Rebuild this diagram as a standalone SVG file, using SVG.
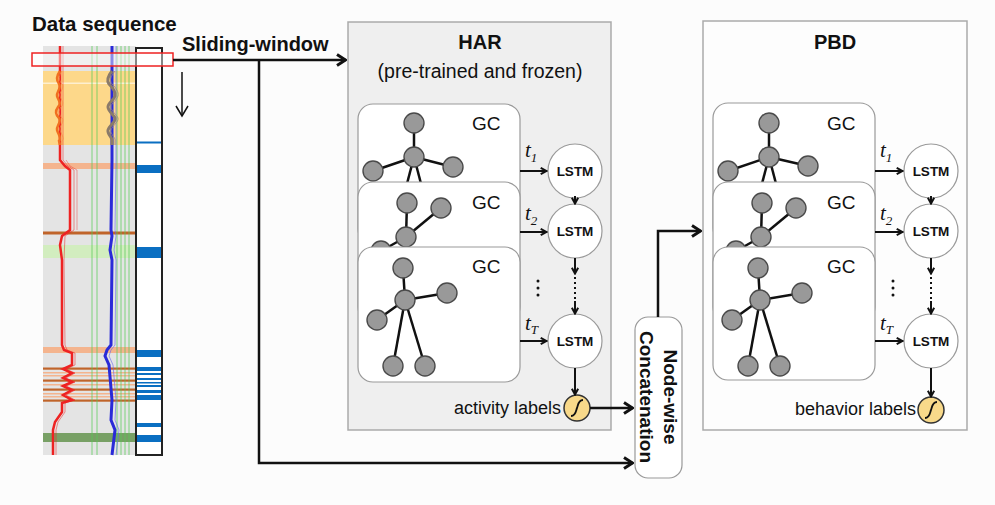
<svg xmlns="http://www.w3.org/2000/svg" width="995" height="505" viewBox="0 0 995 505">
<style>
.txt{font-family:"Liberation Sans",Arial,sans-serif;fill:#111}
.b{font-weight:bold}
.ln{stroke:#111;stroke-width:2.5;fill:none}
.sl{stroke:#111;stroke-width:2;fill:none}
.card{fill:#fff;stroke:#9a9a9a;stroke-width:1.2}
.gn{fill:#999;stroke:#4a4a4a;stroke-width:1.4}
.ge{stroke:#111;stroke-width:2.5}
.lstm{fill:#fff;stroke:#9a9a9a;stroke-width:1.2}
.sig{fill:#f8d98a;stroke:#333;stroke-width:1.5}
.t{font-family:"Liberation Serif","Times New Roman",serif;font-style:italic;fill:#111}
.gv{stroke:#55cc55;stroke-width:0.9;opacity:.8}
.blu{fill:#0a6fc2}
</style>
<defs>
<marker id="ah" viewBox="0 0 12 14" refX="11" refY="7" markerWidth="12" markerHeight="14" markerUnits="userSpaceOnUse" orient="auto">
<path d="M2,1.5 L10.5,7 L2,12.5" fill="none" stroke="#111" stroke-width="3"/>
</marker>
<marker id="as" viewBox="0 0 10 10" refX="9" refY="5" markerWidth="9" markerHeight="9" markerUnits="userSpaceOnUse" orient="auto">
<path d="M2,1.5 L8.5,5 L2,8.5" fill="none" stroke="#111" stroke-width="2.2"/>
</marker>
<g id="sigIcon">
<path d="M-6,8 C-1,8 -1,2 0,0 C1,-2 1,-8 6,-8" fill="none" stroke="#111" stroke-width="1.8"/>
</g>
</defs>
<rect width="995" height="505" fill="#fcfcfc"/>

<!-- Data sequence panel -->
<g id="data-sequence">
<text class="txt b" x="32" y="31" font-size="20.5">Data sequence</text>
<rect x="43" y="46" width="93" height="409" fill="#e4e4e4"/>
<rect x="43" y="71" width="93" height="74" fill="#ffd680" opacity="0.9"/>
<rect x="43" y="82.5" width="93" height="1.5" fill="#fff" opacity="0.6"/>
<rect x="43" y="163" width="93" height="6" fill="#f4b48e"/>
<rect x="43" y="231.5" width="93" height="3" fill="#c0642a"/>
<rect x="43" y="245" width="93" height="13" fill="#cfeeb8" opacity="0.85"/>
<rect x="43" y="347" width="93" height="6" fill="#f4b48e"/>
<rect x="43" y="367.5" width="93" height="2.2" fill="#c0642a"/>
<rect x="43" y="372" width="93" height="1.5" fill="#f4b48e"/>
<rect x="43" y="375" width="93" height="1.5" fill="#f4b48e"/>
<rect x="43" y="379.5" width="93" height="2.2" fill="#c0642a"/>
<rect x="43" y="384" width="93" height="1.5" fill="#f4b48e"/>
<rect x="43" y="388.5" width="93" height="2.2" fill="#c0642a"/>
<rect x="43" y="393" width="93" height="1.5" fill="#f4b48e"/>
<rect x="43" y="396" width="93" height="1.5" fill="#f4b48e"/>
<rect x="43" y="399.5" width="93" height="2.2" fill="#c0642a"/>
<rect x="43" y="433" width="93" height="9" fill="#5d8f45" opacity="0.8"/>
<line class="gv" x1="92" y1="46" x2="92" y2="455"/>
<line class="gv" x1="97" y1="46" x2="97" y2="455"/>
<line class="gv" x1="117" y1="46" x2="117" y2="455"/>
<line class="gv" x1="121" y1="46" x2="121" y2="455"/>
<line class="gv" x1="125" y1="46" x2="125" y2="455"/>
<line class="gv" x1="129" y1="46" x2="129" y2="455"/>
<polyline fill="none" stroke="#ee2222" stroke-width="1" opacity="0.5" points="63,46 63,160 68,166 74,170 74,230 65,236 64,260 65,345 67,350 75,353 75,365 66,369 75,373 66,378 75,382 66,386 75,390 66,395 75,400 65,403 65,412 58,422 56,430 56,455"/>
<polyline fill="none" stroke="#ee2222" stroke-width="1" opacity="0.4" points="66,160 70,166 77,170 77,230"/>
<polyline fill="none" stroke="#ee2222" stroke-width="2.5" points="60,46 60,71 60,145 60,160 65,166 70,170 70,230 62,236 60,245 62,260 62,345 64,350 72,353 72,365 63,369 72,373 63,378 72,382 63,386 72,390 63,395 72,400 62,403 62,412 55,422 53,430 53,455"/>
<path fill="none" stroke="#f07020" stroke-width="2.5" d="M60,71 C57,75 56,80 59,84 C62,88 56,92 57,96 C58,100 62,103 58,107 C55,111 56,115 59,118 C62,122 56,126 57,130 C58,134 62,138 59,141 L60,145"/>
<path fill="none" stroke="#f59040" stroke-width="1" opacity="0.7" d="M62,71 C59,75 58,80 62,84 C65,88 59,92 60,96 C61,100 65,103 61,107 C58,111 59,115 62,118 C65,122 59,126 60,130 C61,134 65,138 62,141 L62,145"/>
<polyline fill="none" stroke="#6666ee" stroke-width="1" opacity="0.6" points="116,46 116,160 115,230 116,236 114,250 116,260 115,345 111,350 109,356 113,365 116,400 115,420 119,430 116,455"/>
<polyline fill="none" stroke="#2a2ad8" stroke-width="3" points="112,46 112,71 112,145 112,160 111,230 112,236 110,250 112,260 111,345 107,350 105,356 109,365 112,400 111,420 115,430 112,455"/>
<path fill="none" stroke="#8a7a6a" stroke-width="3" d="M112,71 C108,76 106,80 109,84 C113,88 116,92 115,96 C114,100 108,103 108,107 C108,111 114,115 115,118 C116,122 109,126 108,130 C107,134 113,138 112,141 L112,145"/>
<path fill="none" stroke="#9a8a7a" stroke-width="1" opacity="0.8" d="M115,71 C111,76 109,80 112,84 C116,88 119,92 118,96 C117,100 111,103 111,107 C111,111 117,115 118,118 C119,122 112,126 111,130 C110,134 116,138 115,141 L115,145"/>
<rect x="136" y="48" width="26" height="407" fill="#fff" stroke="#222" stroke-width="2"/>
<rect class="blu" x="137" y="141.5" width="24" height="2"/>
<rect class="blu" x="137" y="165" width="24" height="8"/>
<rect class="blu" x="137" y="247" width="24" height="11"/>
<rect class="blu" x="137" y="350" width="24" height="7"/>
<rect class="blu" x="137" y="367" width="24" height="4"/>
<rect class="blu" x="137" y="373" width="24" height="2"/>
<rect class="blu" x="137" y="378" width="24" height="2"/>
<rect class="blu" x="137" y="382" width="24" height="1.5"/>
<rect class="blu" x="137" y="385" width="24" height="2"/>
<rect class="blu" x="137" y="390" width="24" height="3"/>
<rect class="blu" x="137" y="395" width="24" height="5"/>
<rect class="blu" x="137" y="423" width="24" height="4"/>
<rect class="blu" x="137" y="435" width="24" height="7"/>
<rect x="32" y="53" width="141" height="13" fill="#fff" fill-opacity="0.45" stroke="#e22" stroke-width="1.5"/>
<line x1="182" y1="72" x2="182" y2="116" stroke="#111" stroke-width="1.5"/>
<path d="M176,106 L182,116 L188,106" fill="none" stroke="#111" stroke-width="1.5"/>
</g>

<!-- HAR box -->
<g id="har">
<rect x="348" y="22" width="263" height="408" fill="#efefef" stroke="#aaa" stroke-width="1.5"/>
<text class="txt b" x="480" y="49" font-size="20" text-anchor="middle">HAR</text>
<text class="txt" x="480" y="78" font-size="19.5" text-anchor="middle">(pre-trained and frozen)</text>
</g>

<g id="har-gc1">
<rect class="card" x="358" y="104" width="162" height="140" rx="15"/>
<line class="ge" x1="414" y1="123" x2="414" y2="157"/>
<line class="ge" x1="414" y1="157" x2="373" y2="171"/>
<line class="ge" x1="414" y1="157" x2="453" y2="167"/>
<line class="ge" x1="414" y1="157" x2="404" y2="195"/>
<line class="ge" x1="414" y1="157" x2="424" y2="195"/>
<circle class="gn" cx="414" cy="123" r="10"/>
<circle class="gn" cx="414" cy="157" r="10"/>
<circle class="gn" cx="373" cy="171" r="10"/>
<circle class="gn" cx="453" cy="167" r="10"/>
<text class="txt" x="472" y="130" font-size="19">GC</text>
</g>
<g id="har-gc2">
<rect class="card" x="358" y="182" width="162" height="140" rx="15"/>
<line class="ge" x1="407" y1="203" x2="406" y2="237"/>
<line class="ge" x1="441" y1="208" x2="406" y2="237"/>
<line class="ge" x1="406" y1="237" x2="381" y2="251"/>
<circle class="gn" cx="407" cy="203" r="10"/>
<circle class="gn" cx="441" cy="208" r="10"/>
<circle class="gn" cx="381" cy="251" r="10"/>
<circle class="gn" cx="406" cy="237" r="10"/>
<text class="txt" x="472" y="209" font-size="19">GC</text>
</g>
<g id="har-gc3">
<rect class="card" x="358" y="247" width="162" height="135" rx="15"/>
<line class="ge" x1="403" y1="268" x2="405" y2="300"/>
<line class="ge" x1="405" y1="300" x2="447" y2="293"/>
<line class="ge" x1="405" y1="300" x2="377" y2="320"/>
<line class="ge" x1="405" y1="300" x2="393" y2="366"/>
<line class="ge" x1="405" y1="300" x2="425" y2="366"/>
<circle class="gn" cx="403" cy="268" r="10"/>
<circle class="gn" cx="447" cy="293" r="10"/>
<circle class="gn" cx="377" cy="320" r="10"/>
<circle class="gn" cx="393" cy="366" r="10"/>
<circle class="gn" cx="425" cy="366" r="10"/>
<circle class="gn" cx="405" cy="300" r="10"/>
<text class="txt" x="472" y="273" font-size="19">GC</text>
</g>
<g id="har-lstm1"><circle class="lstm" cx="575" cy="171" r="27"/><text class="txt b" x="575" y="176" font-size="13.5" text-anchor="middle">LSTM</text></g>
<g id="har-lstm2"><circle class="lstm" cx="575" cy="231" r="27"/><text class="txt b" x="575" y="236" font-size="13.5" text-anchor="middle">LSTM</text></g>
<g id="har-lstm3"><circle class="lstm" cx="575" cy="341" r="27"/><text class="txt b" x="575" y="346" font-size="13.5" text-anchor="middle">LSTM</text></g>
<g id="har-sigmoid"><circle class="sig" cx="577" cy="408" r="13"/><use href="#sigIcon" x="577" y="408"/></g>
<g id="har-labels">
<text class="t" x="525" y="157" font-size="21">t<tspan font-size="13" dy="5">1</tspan></text>
<text class="t" x="525" y="220" font-size="21">t<tspan font-size="13" dy="5">2</tspan></text>
<text class="t" x="525" y="330" font-size="21">t<tspan font-size="13" dy="4">T</tspan></text>
<circle cx="538" cy="281" r="1.5" fill="#111"/><circle cx="538" cy="288" r="1.5" fill="#111"/><circle cx="538" cy="295" r="1.5" fill="#111"/>
<text class="txt" x="561" y="414" font-size="18" text-anchor="end">activity labels</text>
</g>

<!-- PBD box -->
<g id="pbd">
<rect x="703" y="21" width="264" height="409" fill="#fdfdfd" stroke="#aaa" stroke-width="1.5"/>
<text class="txt b" x="835" y="49" font-size="20" text-anchor="middle">PBD</text>
</g>
<g id="pbd-gc1">
<rect class="card" x="713" y="103" width="162" height="140" rx="15"/>
<line class="ge" x1="769" y1="123" x2="769" y2="157"/>
<line class="ge" x1="769" y1="157" x2="728" y2="171"/>
<line class="ge" x1="769" y1="157" x2="808" y2="166"/>
<line class="ge" x1="769" y1="157" x2="759" y2="195"/>
<line class="ge" x1="769" y1="157" x2="779" y2="195"/>
<circle class="gn" cx="769" cy="123" r="10"/>
<circle class="gn" cx="769" cy="157" r="10"/>
<circle class="gn" cx="728" cy="171" r="10"/>
<circle class="gn" cx="808" cy="166" r="10"/>
<text class="txt" x="827" y="130" font-size="19">GC</text>
</g>
<g id="pbd-gc2">
<rect class="card" x="713" y="182" width="162" height="140" rx="15"/>
<line class="ge" x1="762" y1="203" x2="761" y2="237"/>
<line class="ge" x1="796" y1="208" x2="761" y2="237"/>
<line class="ge" x1="761" y1="237" x2="736" y2="251"/>
<circle class="gn" cx="762" cy="203" r="10"/>
<circle class="gn" cx="796" cy="208" r="10"/>
<circle class="gn" cx="736" cy="251" r="10"/>
<circle class="gn" cx="761" cy="237" r="10"/>
<text class="txt" x="827" y="209" font-size="19">GC</text>
</g>
<g id="pbd-gc3">
<rect class="card" x="713" y="247" width="162" height="133" rx="15"/>
<line class="ge" x1="758" y1="268" x2="760" y2="300"/>
<line class="ge" x1="760" y1="300" x2="802" y2="293"/>
<line class="ge" x1="760" y1="300" x2="732" y2="320"/>
<line class="ge" x1="760" y1="300" x2="748" y2="366"/>
<line class="ge" x1="760" y1="300" x2="780" y2="366"/>
<circle class="gn" cx="758" cy="268" r="10"/>
<circle class="gn" cx="802" cy="293" r="10"/>
<circle class="gn" cx="732" cy="320" r="10"/>
<circle class="gn" cx="748" cy="366" r="10"/>
<circle class="gn" cx="780" cy="366" r="10"/>
<circle class="gn" cx="760" cy="300" r="10"/>
<text class="txt" x="827" y="273" font-size="19">GC</text>
</g>
<g id="pbd-lstm1"><circle class="lstm" cx="931" cy="171" r="27"/><text class="txt b" x="931" y="176" font-size="13.5" text-anchor="middle">LSTM</text></g>
<g id="pbd-lstm2"><circle class="lstm" cx="931" cy="231" r="27"/><text class="txt b" x="931" y="236" font-size="13.5" text-anchor="middle">LSTM</text></g>
<g id="pbd-lstm3"><circle class="lstm" cx="931" cy="341" r="27"/><text class="txt b" x="931" y="346" font-size="13.5" text-anchor="middle">LSTM</text></g>
<g id="pbd-sigmoid"><circle class="sig" cx="931" cy="410" r="13"/><use href="#sigIcon" x="931" y="410"/></g>
<g id="pbd-labels">
<text class="t" x="880" y="157" font-size="21">t<tspan font-size="13" dy="5">1</tspan></text>
<text class="t" x="880" y="220" font-size="21">t<tspan font-size="13" dy="5">2</tspan></text>
<text class="t" x="880" y="330" font-size="21">t<tspan font-size="13" dy="4">T</tspan></text>
<circle cx="893" cy="281" r="1.5" fill="#111"/><circle cx="893" cy="288" r="1.5" fill="#111"/><circle cx="893" cy="295" r="1.5" fill="#111"/>
<text class="txt" x="916" y="415" font-size="18" text-anchor="end">behavior labels</text>
</g>

<!-- Concatenation node -->
<g id="concat">
<rect x="635" y="317" width="47" height="161" rx="13" fill="#fff" stroke="#999" stroke-width="1.2"/>
<text class="txt b" font-size="19" text-anchor="middle" transform="translate(664,397) rotate(90)">Node-wise</text>
<text class="txt b" font-size="19" text-anchor="middle" transform="translate(640,397) rotate(90)">Concatenation</text>
</g>

<!-- Connectors -->
<g id="connectors">
<text class="txt b" x="182" y="51" font-size="20">Sliding-window</text>
<path class="ln" d="M173,60 L346,60" marker-end="url(#ah)"/>
<path class="ln" d="M259,60 L259,463 L633,463" marker-end="url(#ah)"/>
<path class="ln" d="M590,408 L633,408" marker-end="url(#ah)"/>
<path class="ln" d="M658,317 L658,231 L701,231" marker-end="url(#ah)"/>
<path class="sl" d="M520,171 L547,171" marker-end="url(#as)"/>
<path class="sl" d="M520,232 L547,232" marker-end="url(#as)"/>
<path class="sl" d="M520,341 L547,341" marker-end="url(#as)"/>
<path class="sl" d="M575,196 L575,204" marker-end="url(#as)"/>
<path class="sl" d="M575,258 L575,274" marker-end="url(#as)"/>
<path d="M575,277 L575,301" stroke="#111" stroke-width="2" stroke-dasharray="2 3"/>
<path class="sl" d="M575,301 L575,314" marker-end="url(#as)"/>
<path class="sl" d="M575,368 L575,395" marker-end="url(#as)"/>
<path class="sl" d="M875,171 L903,171" marker-end="url(#as)"/>
<path class="sl" d="M875,232 L903,232" marker-end="url(#as)"/>
<path class="sl" d="M875,341 L903,341" marker-end="url(#as)"/>
<path class="sl" d="M931,196 L931,204" marker-end="url(#as)"/>
<path class="sl" d="M931,258 L931,274" marker-end="url(#as)"/>
<path d="M931,277 L931,301" stroke="#111" stroke-width="2" stroke-dasharray="2 3"/>
<path class="sl" d="M931,301 L931,314" marker-end="url(#as)"/>
<path class="sl" d="M931,368 L931,397" marker-end="url(#as)"/>
</g>
</svg>
